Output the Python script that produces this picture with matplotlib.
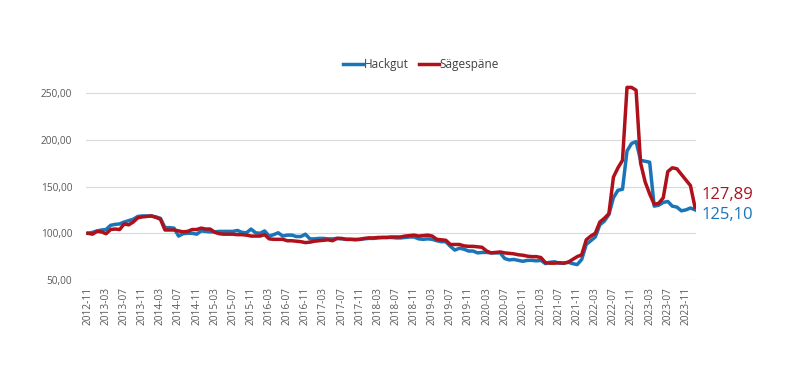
import numpy as np
import pandas as pd
import matplotlib
matplotlib.use("Agg")
import matplotlib.pyplot as plt

plt.rcParams["font.family"] = ["Open Sans", "DejaVu Sans"]

# monthly index values, 2012-11 .. 2024-01
months = pd.period_range("2012-11", "2024-01", freq="M").strftime("%Y-%m").tolist()

hackgut = [
    100, 101, 102.5, 103.5, 104, 108.5, 109.5, 110, 112, 113.5, 115, 118,
    118.5, 118.5, 118.5, 117.5, 116, 106, 106, 105.5, 97, 99.5, 100, 100,
    99, 102.5, 102, 101.5, 101.5, 102, 102, 102, 102, 103, 101, 100.5,
    104.5, 100.5, 100, 102.5, 97, 98.5, 100.5, 97, 98, 98, 96.5, 96.5,
    99, 94, 94, 94.5, 94.5, 94, 94, 94.5, 94, 93.5, 93.5, 93.5,
    93.5, 94, 94.5, 94.5, 95, 95.5, 95.5, 95.5, 95, 95, 95.5, 96,
    96, 94, 93.5, 94, 93.5, 92, 91, 91, 86, 82, 84, 83,
    81, 81, 79, 79.5, 79.5, 79, 79, 79, 73, 71.5, 72, 71,
    70, 71, 71, 70.5, 71, 67.5, 69, 69.5, 68, 68, 69, 67.5,
    66.5, 72, 88, 92, 96, 109, 113, 120, 138, 146, 147, 188,
    196, 198, 178, 177, 176, 129, 130, 133, 134, 129, 128, 124,
    125, 127, 125.10,
]
saegespaene = [
    100, 99, 102, 101.5, 99.5, 104, 104.5, 104, 110, 109, 112, 116.5,
    117.5, 118, 118.5, 117, 115, 103.5, 103.5, 103.5, 102.5, 101.5, 102, 104,
    104, 105.5, 104.5, 104.5, 101, 99.5, 99, 99, 99, 98.5, 98.5, 98,
    97, 97, 97, 98.5, 94, 93.5, 93.5, 93.5, 92, 92, 91.5, 91,
    90, 90.5, 91.5, 92, 92.5, 93, 92, 94.5, 94.5, 93.5, 93.5, 93,
    93.5, 94.5, 95, 95, 95.5, 95.5, 95.5, 96, 96, 96, 97, 97.5,
    98, 97, 97.5, 98, 97, 93.5, 93, 92.5, 88, 88, 88, 86.5,
    86, 86, 85.5, 85, 81, 79, 79.5, 80, 79, 78.5, 78, 77,
    76.5, 75.5, 75, 75, 74, 68.5, 68, 68, 68.5, 68, 69, 72,
    75, 77, 93, 97, 100, 112, 116, 121, 160, 170, 178, 256,
    256, 253, 175, 155, 142, 131, 132, 138, 166, 170, 169, 163,
    157, 151, 127.89,
]

blue = "#1a75b8"
red = "#b0101a"

fig = plt.figure(figsize=(8.05, 3.86), dpi=100)
ax = fig.add_axes([0.107, 0.2746, 0.758, 0.5135])

x = np.arange(len(months))
ax.plot(x, hackgut, color=blue, lw=2.5, label="Hackgut", solid_joinstyle="round")
ax.plot(x, saegespaene, color=red, lw=2.5, label="Sägespäne", solid_joinstyle="round")

ax.set_xlim(-0.4, len(months) - 0.7)
ax.set_ylim(50, 262)
ax.set_yticks([50, 100, 150, 200, 250])
ax.set_yticklabels([f"{v:.2f}".replace(".", ",") for v in [50, 100, 150, 200, 250]])
ax.set_xticks(x[::4])
ax.set_xticklabels(months[::4], rotation=90)
ax.tick_params(length=0, colors="#595959", labelsize=7.3)
ax.tick_params(axis="y", pad=10)
ax.tick_params(axis="x", pad=5)
ax.grid(axis="y", color="#d9d9d9", lw=0.8)
ax.set_axisbelow(True)
for s in ax.spines.values():
    s.set_visible(False)

# end labels
ax.annotate(f"{saegespaene[-1]:.2f}".replace(".", ","), (x[-1], saegespaene[-1]),
            xytext=(5, 9), textcoords="offset points", color=red,
            fontsize=12, va="center", ha="left", annotation_clip=False)
ax.annotate(f"{hackgut[-1]:.2f}".replace(".", ","), (x[-1], hackgut[-1]),
            xytext=(5, -4), textcoords="offset points", color=blue,
            fontsize=12, va="center", ha="left", annotation_clip=False)

ax.legend(loc="center", bbox_to_anchor=(0.549, 1.085), ncol=2, frameon=False,
          fontsize=8.5, handlelength=1.7, handletextpad=0.05, columnspacing=0.9,
          labelcolor="#404040")

fig.savefig("out.png", dpi=100)
